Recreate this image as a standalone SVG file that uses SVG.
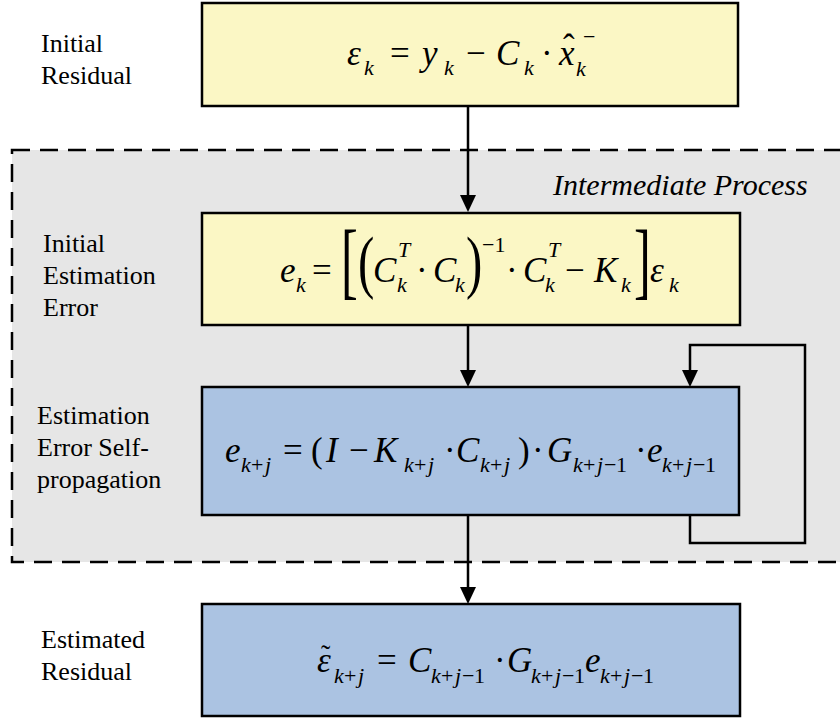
<svg xmlns="http://www.w3.org/2000/svg" width="840" height="719" viewBox="0 0 840 719">
<rect width="840" height="719" fill="#fff"/>
<g id="intermediate-region">
<rect x="12" y="150" width="850" height="412" fill="#e6e6e6" stroke="#000" stroke-width="2.5" stroke-dasharray="18,10"/>
<text x="553" y="195" font-family="Liberation Serif" font-style="italic" font-size="30">Intermediate Process</text>
</g>
<g id="connectors">
<path d="M468,106 V196 M468,325 V371 M468,515 V588 M690,515 V543 H805 V345 H690 V371" fill="none" stroke="#000" stroke-width="2.5"/>
<polygon points="460,195 476,195 468,212" fill="#000"/>
<polygon points="460,370 476,370 468,387" fill="#000"/>
<polygon points="460,587 476,587 468,604" fill="#000"/>
<polygon points="682,370 698,370 690,387" fill="#000"/>
</g>
<g id="initial-residual">
<rect x="202" y="3" width="536" height="103" fill="#fbf7c5" stroke="#000" stroke-width="2.5"/>
<text font-family="Liberation Serif" font-size="26" x="41" y="52">Initial</text>
<text font-family="Liberation Serif" font-size="26" x="41" y="84">Residual</text>
<text font-family="Liberation Serif" font-size="35" font-style="italic" x="347" y="65">ε</text>
<text font-family="Liberation Serif" font-size="22" font-style="italic" x="364" y="75">k</text>
<text font-family="Liberation Serif" font-size="35" x="390" y="65">=</text>
<text font-family="Liberation Serif" font-size="35" font-style="italic" x="422" y="65">y</text>
<text font-family="Liberation Serif" font-size="22" font-style="italic" x="444" y="75">k</text>
<text font-family="Liberation Serif" font-size="35" x="466" y="65">−</text>
<text font-family="Liberation Serif" font-size="35" font-style="italic" x="496" y="65">C</text>
<text font-family="Liberation Serif" font-size="22" font-style="italic" x="524" y="75">k</text>
<text font-family="Liberation Serif" font-size="35" x="541" y="65">·</text>
<text font-family="Liberation Serif" font-size="35" font-style="italic" x="559" y="65">x</text>
<text font-family="Liberation Serif" font-size="35" x="563" y="59">ˆ</text>
<text font-family="Liberation Serif" font-size="22" x="583" y="44">−</text>
<text font-family="Liberation Serif" font-size="22" font-style="italic" x="576" y="76">k</text>
</g>
<g id="initial-estimation-error">
<rect x="202" y="213" width="538" height="112" fill="#fbf7c5" stroke="#000" stroke-width="2.5"/>
<text font-family="Liberation Serif" font-size="26" x="43" y="252">Initial</text>
<text font-family="Liberation Serif" font-size="26" x="43" y="284">Estimation</text>
<text font-family="Liberation Serif" font-size="26" x="43" y="316">Error</text>
<text font-family="Liberation Serif" font-size="35" font-style="italic" x="280" y="282">e</text>
<text font-family="Liberation Serif" font-size="22" font-style="italic" x="296" y="292">k</text>
<text font-family="Liberation Serif" font-size="35" x="312" y="282">=</text>
<text font-family="Liberation Serif" font-size="84" transform="translate(341,289) scale(0.6,1)">[</text>
<text font-family="Liberation Serif" font-size="70" transform="translate(358,285) scale(0.7,1)">(</text>
<text font-family="Liberation Serif" font-size="35" font-style="italic" x="373" y="282">C</text>
<text font-family="Liberation Serif" font-size="22" font-style="italic" x="398" y="257">T</text>
<text font-family="Liberation Serif" font-size="22" font-style="italic" x="397" y="292">k</text>
<text font-family="Liberation Serif" font-size="35" x="416" y="282">·</text>
<text font-family="Liberation Serif" font-size="35" font-style="italic" x="433" y="282">C</text>
<text font-family="Liberation Serif" font-size="22" font-style="italic" x="455" y="292">k</text>
<text font-family="Liberation Serif" font-size="70" transform="translate(466,285) scale(0.7,1)">)</text>
<text font-family="Liberation Serif" font-size="22" x="482" y="252">−1</text>
<text font-family="Liberation Serif" font-size="35" x="506" y="282">·</text>
<text font-family="Liberation Serif" font-size="35" font-style="italic" x="523" y="282">C</text>
<text font-family="Liberation Serif" font-size="22" font-style="italic" x="548" y="257">T</text>
<text font-family="Liberation Serif" font-size="22" font-style="italic" x="545" y="292">k</text>
<text font-family="Liberation Serif" font-size="35" x="565" y="282">−</text>
<text font-family="Liberation Serif" font-size="35" font-style="italic" x="594" y="282">K</text>
<text font-family="Liberation Serif" font-size="22" font-style="italic" x="621" y="292">k</text>
<text font-family="Liberation Serif" font-size="84" transform="translate(634,289) scale(0.6,1)">]</text>
<text font-family="Liberation Serif" font-size="35" font-style="italic" x="650" y="282">ε</text>
<text font-family="Liberation Serif" font-size="22" font-style="italic" x="669" y="292">k</text>
</g>
<g id="estimation-error-self-propagation">
<rect x="202" y="387" width="537" height="128" fill="#abc3e2" stroke="#000" stroke-width="2.5"/>
<text font-family="Liberation Serif" font-size="26" x="37" y="424">Estimation</text>
<text font-family="Liberation Serif" font-size="26" x="37" y="456">Error Self-</text>
<text font-family="Liberation Serif" font-size="26" x="37" y="488">propagation</text>
<text font-family="Liberation Serif" font-size="35" font-style="italic" x="225" y="462">e</text>
<text font-family="Liberation Serif" font-size="22" font-style="italic" x="241" y="472">k</text><text font-family="Liberation Serif" font-size="22" x="251" y="472">+</text><text font-family="Liberation Serif" font-size="22" font-style="italic" x="265" y="472">j</text>
<text font-family="Liberation Serif" font-size="35" x="283" y="462">=</text>
<text font-family="Liberation Serif" font-size="35" x="311" y="462">(</text>
<text font-family="Liberation Serif" font-size="35" font-style="italic" x="326" y="462">I</text>
<text font-family="Liberation Serif" font-size="35" x="349" y="462">−</text>
<text font-family="Liberation Serif" font-size="35" font-style="italic" x="374" y="462">K</text>
<text font-family="Liberation Serif" font-size="22" font-style="italic" x="404" y="472">k</text><text font-family="Liberation Serif" font-size="22" x="414" y="472">+</text><text font-family="Liberation Serif" font-size="22" font-style="italic" x="428" y="472">j</text>
<text font-family="Liberation Serif" font-size="35" x="444" y="462">·</text>
<text font-family="Liberation Serif" font-size="35" font-style="italic" x="456" y="462">C</text>
<text font-family="Liberation Serif" font-size="22" font-style="italic" x="480" y="472">k</text><text font-family="Liberation Serif" font-size="22" x="490" y="472">+</text><text font-family="Liberation Serif" font-size="22" font-style="italic" x="504" y="472">j</text>
<text font-family="Liberation Serif" font-size="35" x="518" y="462">)</text>
<text font-family="Liberation Serif" font-size="35" x="532" y="462">·</text>
<text font-family="Liberation Serif" font-size="35" font-style="italic" x="547" y="462">G</text>
<text font-family="Liberation Serif" font-size="22" font-style="italic" x="573" y="472">k</text><text font-family="Liberation Serif" font-size="22" x="583" y="472">+</text><text font-family="Liberation Serif" font-size="22" font-style="italic" x="597" y="472">j</text><text font-family="Liberation Serif" font-size="22" x="604" y="472">−</text><text font-family="Liberation Serif" font-size="22" x="616" y="472">1</text>
<text font-family="Liberation Serif" font-size="35" x="635" y="462">·</text>
<text font-family="Liberation Serif" font-size="35" font-style="italic" x="647" y="462">e</text>
<text font-family="Liberation Serif" font-size="22" font-style="italic" x="662" y="472">k</text><text font-family="Liberation Serif" font-size="22" x="672" y="472">+</text><text font-family="Liberation Serif" font-size="22" font-style="italic" x="686" y="472">j</text><text font-family="Liberation Serif" font-size="22" x="693" y="472">−</text><text font-family="Liberation Serif" font-size="22" x="705" y="472">1</text>
</g>
<g id="estimated-residual">
<rect x="202" y="604" width="538" height="112" fill="#abc3e2" stroke="#000" stroke-width="2.5"/>
<text font-family="Liberation Serif" font-size="26" x="41" y="648">Estimated</text>
<text font-family="Liberation Serif" font-size="26" x="41" y="680">Residual</text>
<text font-family="Liberation Serif" font-size="35" font-style="italic" x="317" y="672">ε</text>
<text font-family="Liberation Serif" font-size="28" x="321" y="664">˜</text>
<text font-family="Liberation Serif" font-size="22" font-style="italic" x="334" y="683">k</text><text font-family="Liberation Serif" font-size="22" x="344" y="683">+</text><text font-family="Liberation Serif" font-size="22" font-style="italic" x="358" y="683">j</text>
<text font-family="Liberation Serif" font-size="35" x="377" y="672">=</text>
<text font-family="Liberation Serif" font-size="35" font-style="italic" x="408" y="672">C</text>
<text font-family="Liberation Serif" font-size="22" font-style="italic" x="431" y="683">k</text><text font-family="Liberation Serif" font-size="22" x="441" y="683">+</text><text font-family="Liberation Serif" font-size="22" font-style="italic" x="455" y="683">j</text><text font-family="Liberation Serif" font-size="22" x="462" y="683">−</text><text font-family="Liberation Serif" font-size="22" x="474" y="683">1</text>
<text font-family="Liberation Serif" font-size="35" x="494" y="672">·</text>
<text font-family="Liberation Serif" font-size="35" font-style="italic" x="507" y="672">G</text>
<text font-family="Liberation Serif" font-size="22" font-style="italic" x="531" y="683">k</text><text font-family="Liberation Serif" font-size="22" x="541" y="683">+</text><text font-family="Liberation Serif" font-size="22" font-style="italic" x="555" y="683">j</text><text font-family="Liberation Serif" font-size="22" x="562" y="683">−</text><text font-family="Liberation Serif" font-size="22" x="574" y="683">1</text>
<text font-family="Liberation Serif" font-size="35" font-style="italic" x="585" y="672">e</text>
<text font-family="Liberation Serif" font-size="22" font-style="italic" x="600" y="683">k</text><text font-family="Liberation Serif" font-size="22" x="610" y="683">+</text><text font-family="Liberation Serif" font-size="22" font-style="italic" x="624" y="683">j</text><text font-family="Liberation Serif" font-size="22" x="631" y="683">−</text><text font-family="Liberation Serif" font-size="22" x="643" y="683">1</text>
</g>
</svg>
